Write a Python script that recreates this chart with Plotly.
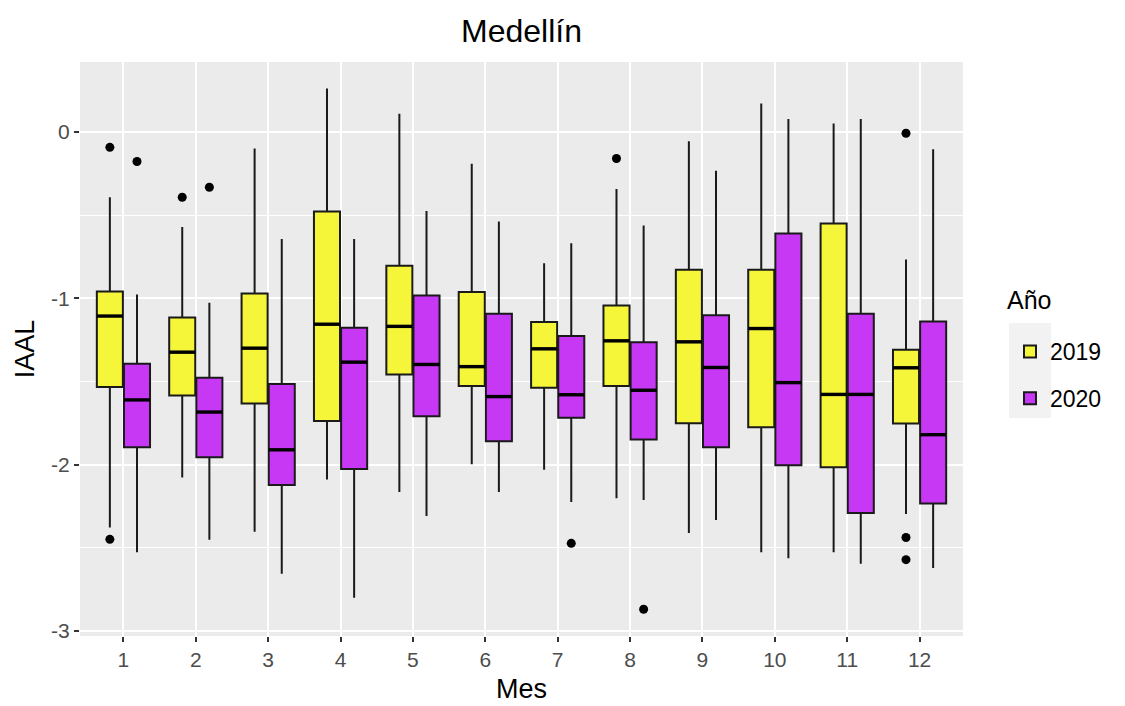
import plotly.graph_objects as go

# ---- data ----
meses = [1, 2, 3, 4, 5, 6, 7, 8, 9, 10, 11, 12]
mes_labels = ["1", "2", "3", "4", "5", "6", "7", "8", "9", "10", "11", "12"]

upper_2019 = [-0.393, -0.571, -0.10, 0.26, 0.109, -0.191, -0.789, -0.344, -0.056, 0.171, 0.051, -0.767]
q3_2019 = [-0.96, -1.116, -0.971, -0.478, -0.804, -0.962, -1.142, -1.044, -0.829, -0.829, -0.551, -1.309]
median_2019 = [-1.107, -1.324, -1.30, -1.156, -1.169, -1.411, -1.304, -1.256, -1.262, -1.182, -1.578, -1.418]
q1_2019 = [-1.533, -1.584, -1.633, -1.738, -1.458, -1.527, -1.538, -1.527, -1.751, -1.776, -2.016, -1.753]
lower_2019 = [-2.378, -2.078, -2.404, -2.089, -2.164, -1.998, -2.031, -2.202, -2.411, -2.527, -2.527, -2.296]
out_mes_2019 = [1, 1, 2, 8, 12, 12, 12]
out_val_2019 = [-0.093, -2.449, -0.393, -0.16, -0.008, -2.438, -2.571]

upper_2020 = [-0.978, -1.027, -0.644, -0.644, -0.476, -0.538, -0.669, -0.562, -0.233, 0.078, 0.078, -0.104]
q3_2020 = [-1.393, -1.478, -1.516, -1.178, -0.984, -1.093, -1.227, -1.264, -1.102, -0.611, -1.093, -1.14]
median_2020 = [-1.611, -1.684, -1.911, -1.384, -1.398, -1.591, -1.58, -1.553, -1.416, -1.507, -1.578, -1.82]
q1_2020 = [-1.896, -1.956, -2.122, -2.027, -1.709, -1.86, -1.718, -1.849, -1.896, -2.004, -2.291, -2.233]
lower_2020 = [-2.527, -2.451, -2.656, -2.8, -2.309, -2.164, -2.224, -2.213, -2.333, -2.562, -2.596, -2.622]
out_mes_2020 = [1, 2, 7, 8]
out_val_2020 = [-0.178, -0.333, -2.473, -2.869]

y_ticks = [-3, -2, -1, 0]
y_tick_labels = ["-3", "-2", "-1", "0"]

# ---- styling ----
FONT = "Liberation Sans, Arial, sans-serif"
COL_2019 = "#F5F53A"
COL_2020 = "#C738F5"
DODGE = 0.75
BOXW = DODGE / 2 * 0.96
OFF = DODGE / 4

series = [
    ("2019", -OFF, COL_2019, upper_2019, q3_2019, median_2019, q1_2019, lower_2019, out_mes_2019, out_val_2019),
    ("2020", OFF, COL_2020, upper_2020, q3_2020, median_2020, q1_2020, lower_2020, out_mes_2020, out_val_2020),
]

fig = go.Figure()
for name, off, col, up, q3, med, q1, lo, om, ov in series:
    xs = [m + off for m in meses]
    fig.add_trace(go.Box(
        name=name, legendgroup=name, x=xs, q1=q1, median=med, q3=q3,
        lowerfence=lo, upperfence=up,
        width=BOXW, whiskerwidth=0, boxpoints=False,
        fillcolor=col, line=dict(color="#1a1a1a", width=2),
        hoverinfo="skip",
    ))
for name, off, col, up, q3, med, q1, lo, om, ov in series:
    mx, my = [], []
    for m, v in zip(meses, med):
        c = m + off
        mx += [c - BOXW / 2, c + BOXW / 2, None]
        my += [v, v, None]
    fig.add_trace(go.Scatter(x=mx, y=my, mode="lines", line=dict(color="black", width=3.4),
                             showlegend=False, hoverinfo="skip", legendgroup=name))
    fig.add_trace(go.Scatter(x=[m + off for m in om], y=ov, mode="markers",
                             marker=dict(color="black", size=9), showlegend=False,
                             hoverinfo="skip", legendgroup=name))

# legend title placed as annotation, key background as a shape (ggplot style)
fig.add_annotation(text="Año", xref="paper", yref="paper",
                   x=(1005 - 80) / 883, y=1 - (300 - 62) / 574,
                   xanchor="left", yanchor="middle", showarrow=False,
                   font=dict(family=FONT, size=25, color="black"))
fig.add_shape(type="rect", xref="paper", yref="paper", layer="below",
              x0=(1009 - 80) / 883, x1=(1051 - 80) / 883,
              y0=1 - (418 - 62) / 574, y1=1 - (323 - 62) / 574,
              fillcolor="#F2F2F2", line=dict(width=0))

fig.update_layout(
    width=1125, height=706,
    margin=dict(l=80, r=162, t=62, b=70, autoexpand=False),
    paper_bgcolor="white", plot_bgcolor="#EBEBEB",
    boxmode="overlay",
    font=dict(family=FONT, color="#4D4D4D", size=20),
    title=dict(text="Medellín", x=0.5, xref="paper", xanchor="center",
               y=1 - 31 / 706, yref="container", yanchor="middle",
               font=dict(family=FONT, size=32, color="black")),
    legend=dict(font=dict(size=23, color="black"),
                x=(1010 - 80) / 883, xanchor="left",
                y=1 - (375 - 62) / 574, yanchor="middle",
                bgcolor="rgba(0,0,0,0)", tracegroupgap=14),
    showlegend=True,
)
fig.update_xaxes(
    range=[0.4, 12.6], tickvals=meses, ticktext=mes_labels,
    showgrid=True, gridcolor="white", gridwidth=1.6, zeroline=False,
    ticks="outside", ticklen=5, tickwidth=1.5, tickcolor="#333333",
    tickfont=dict(size=21, color="#4D4D4D"),
    title=dict(text="Mes", font=dict(size=27, color="black"), standoff=8),
    automargin=False, showline=False,
)
fig.update_yaxes(
    range=[-3.03, 0.42], tickvals=y_ticks, ticktext=y_tick_labels,
    showgrid=True, gridcolor="white", gridwidth=1.6, zeroline=False,
    minor=dict(dtick=0.5, tick0=0, showgrid=True, gridcolor="white", gridwidth=0.8, ticks=""),
    ticks="outside", ticklen=5, tickwidth=1.5, tickcolor="#333333",
    tickfont=dict(size=21, color="#4D4D4D"),
    title=dict(text="IAAL", font=dict(size=27, color="black"), standoff=8),
    automargin=False, showline=False,
)

fig.write_html("out.html")
